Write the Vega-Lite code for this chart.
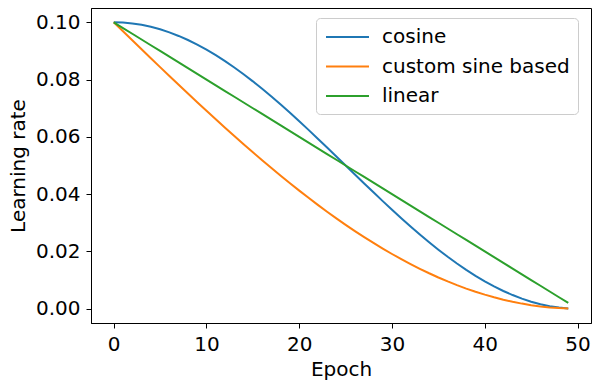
{
  "$schema": "https://vega.github.io/schema/vega-lite/v6.json",
  "width": 500,
  "height": 315,
  "autosize": {"type": "none"},
  "padding": {"left": 91, "top": 8, "right": 1, "bottom": 61},
  "background": "white",
  "config": {
    "view": {"stroke": "black", "strokeWidth": 1},
    "font": "DejaVu Sans",
    "axis": {
      "grid": false,
      "domainColor": "black",
      "domainWidth": 1,
      "tickColor": "black",
      "tickSize": 5,
      "tickWidth": 1,
      "labelColor": "black",
      "labelFont": "DejaVu Sans",
      "labelFontSize": 20,
      "titleFont": "DejaVu Sans",
      "titleFontSize": 20,
      "titleFontWeight": "normal",
      "titleColor": "black",
      "labelPadding": 6
    }
  },
  "data": {
    "values": [
      {"s":"cosine","e":0,"v":0.1},{"s":"cosine","e":1,"v":0.099901},{"s":"cosine","e":2,"v":0.099606},{"s":"cosine","e":3,"v":0.099114},{"s":"cosine","e":4,"v":0.098429},{"s":"cosine","e":5,"v":0.097553},{"s":"cosine","e":6,"v":0.096489},{"s":"cosine","e":7,"v":0.095241},{"s":"cosine","e":8,"v":0.093815},{"s":"cosine","e":9,"v":0.092216},
      {"s":"cosine","e":10,"v":0.090451},{"s":"cosine","e":11,"v":0.088526},{"s":"cosine","e":12,"v":0.086448},{"s":"cosine","e":13,"v":0.084227},{"s":"cosine","e":14,"v":0.081871},{"s":"cosine","e":15,"v":0.079389},{"s":"cosine","e":16,"v":0.076791},{"s":"cosine","e":17,"v":0.074088},{"s":"cosine","e":18,"v":0.071289},{"s":"cosine","e":19,"v":0.068406},
      {"s":"cosine","e":20,"v":0.065451},{"s":"cosine","e":21,"v":0.062435},{"s":"cosine","e":22,"v":0.059369},{"s":"cosine","e":23,"v":0.056267},{"s":"cosine","e":24,"v":0.05314},{"s":"cosine","e":25,"v":0.05},{"s":"cosine","e":26,"v":0.046861},{"s":"cosine","e":27,"v":0.043733},{"s":"cosine","e":28,"v":0.040631},{"s":"cosine","e":29,"v":0.037566},
      {"s":"cosine","e":30,"v":0.034549},{"s":"cosine","e":31,"v":0.031594},{"s":"cosine","e":32,"v":0.028711},{"s":"cosine","e":33,"v":0.025912},{"s":"cosine","e":34,"v":0.023209},{"s":"cosine","e":35,"v":0.020611},{"s":"cosine","e":36,"v":0.018129},{"s":"cosine","e":37,"v":0.015773},{"s":"cosine","e":38,"v":0.013552},{"s":"cosine","e":39,"v":0.011474},
      {"s":"cosine","e":40,"v":0.0095492},{"s":"cosine","e":41,"v":0.0077836},{"s":"cosine","e":42,"v":0.0061847},{"s":"cosine","e":43,"v":0.0047586},{"s":"cosine","e":44,"v":0.0035112},{"s":"cosine","e":45,"v":0.0024472},{"s":"cosine","e":46,"v":0.0015708},{"s":"cosine","e":47,"v":0.0008856},{"s":"cosine","e":48,"v":0.0003943},{"s":"cosine","e":49,"v":0.0000987},
      {"s":"custom sine based","e":0,"v":0.1},{"s":"custom sine based","e":1,"v":0.096859},{"s":"custom sine based","e":2,"v":0.093721},{"s":"custom sine based","e":3,"v":0.090589},{"s":"custom sine based","e":4,"v":0.087467},{"s":"custom sine based","e":5,"v":0.084357},{"s":"custom sine based","e":6,"v":0.081262},{"s":"custom sine based","e":7,"v":0.078186},{"s":"custom sine based","e":8,"v":0.075131},{"s":"custom sine based","e":9,"v":0.072101},
      {"s":"custom sine based","e":10,"v":0.069098},{"s":"custom sine based","e":11,"v":0.066126},{"s":"custom sine based","e":12,"v":0.063188},{"s":"custom sine based","e":13,"v":0.060285},{"s":"custom sine based","e":14,"v":0.057422},{"s":"custom sine based","e":15,"v":0.054601},{"s":"custom sine based","e":16,"v":0.051825},{"s":"custom sine based","e":17,"v":0.049096},{"s":"custom sine based","e":18,"v":0.046417},{"s":"custom sine based","e":19,"v":0.043792},
      {"s":"custom sine based","e":20,"v":0.041221},{"s":"custom sine based","e":21,"v":0.038709},{"s":"custom sine based","e":22,"v":0.036258},{"s":"custom sine based","e":23,"v":0.033869},{"s":"custom sine based","e":24,"v":0.031545},{"s":"custom sine based","e":25,"v":0.029289},{"s":"custom sine based","e":26,"v":0.027103},{"s":"custom sine based","e":27,"v":0.024989},{"s":"custom sine based","e":28,"v":0.022949},{"s":"custom sine based","e":29,"v":0.020984},
      {"s":"custom sine based","e":30,"v":0.019098},{"s":"custom sine based","e":31,"v":0.017292},{"s":"custom sine based","e":32,"v":0.015567},{"s":"custom sine based","e":33,"v":0.013926},{"s":"custom sine based","e":34,"v":0.012369},{"s":"custom sine based","e":35,"v":0.010899},{"s":"custom sine based","e":36,"v":0.0095173},{"s":"custom sine based","e":37,"v":0.0082245},{"s":"custom sine based","e":38,"v":0.0070224},{"s":"custom sine based","e":39,"v":0.0059119},
      {"s":"custom sine based","e":40,"v":0.0048943},{"s":"custom sine based","e":41,"v":0.0039706},{"s":"custom sine based","e":42,"v":0.0031417},{"s":"custom sine based","e":43,"v":0.0024083},{"s":"custom sine based","e":44,"v":0.0017713},{"s":"custom sine based","e":45,"v":0.0012312},{"s":"custom sine based","e":46,"v":0.0007885},{"s":"custom sine based","e":47,"v":0.0004438},{"s":"custom sine based","e":48,"v":0.0001973},{"s":"custom sine based","e":49,"v":0.0000493},
      {"s":"linear","e":0,"v":0.1},{"s":"linear","e":1,"v":0.098},{"s":"linear","e":2,"v":0.096},{"s":"linear","e":3,"v":0.094},{"s":"linear","e":4,"v":0.092},{"s":"linear","e":5,"v":0.09},{"s":"linear","e":6,"v":0.088},{"s":"linear","e":7,"v":0.086},{"s":"linear","e":8,"v":0.084},{"s":"linear","e":9,"v":0.082},
      {"s":"linear","e":10,"v":0.08},{"s":"linear","e":11,"v":0.078},{"s":"linear","e":12,"v":0.076},{"s":"linear","e":13,"v":0.074},{"s":"linear","e":14,"v":0.072},{"s":"linear","e":15,"v":0.07},{"s":"linear","e":16,"v":0.068},{"s":"linear","e":17,"v":0.066},{"s":"linear","e":18,"v":0.064},{"s":"linear","e":19,"v":0.062},
      {"s":"linear","e":20,"v":0.06},{"s":"linear","e":21,"v":0.058},{"s":"linear","e":22,"v":0.056},{"s":"linear","e":23,"v":0.054},{"s":"linear","e":24,"v":0.052},{"s":"linear","e":25,"v":0.05},{"s":"linear","e":26,"v":0.048},{"s":"linear","e":27,"v":0.046},{"s":"linear","e":28,"v":0.044},{"s":"linear","e":29,"v":0.042},
      {"s":"linear","e":30,"v":0.04},{"s":"linear","e":31,"v":0.038},{"s":"linear","e":32,"v":0.036},{"s":"linear","e":33,"v":0.034},{"s":"linear","e":34,"v":0.032},{"s":"linear","e":35,"v":0.03},{"s":"linear","e":36,"v":0.028},{"s":"linear","e":37,"v":0.026},{"s":"linear","e":38,"v":0.024},{"s":"linear","e":39,"v":0.022},
      {"s":"linear","e":40,"v":0.02},{"s":"linear","e":41,"v":0.018},{"s":"linear","e":42,"v":0.016},{"s":"linear","e":43,"v":0.014},{"s":"linear","e":44,"v":0.012},{"s":"linear","e":45,"v":0.01},{"s":"linear","e":46,"v":0.008},{"s":"linear","e":47,"v":0.006},{"s":"linear","e":48,"v":0.004},{"s":"linear","e":49,"v":0.002}
    ]
  },
  "mark": {"type": "line", "strokeWidth": 2, "clip": true},
  "encoding": {
    "x": {
      "field": "e", "type": "quantitative", "title": "Epoch",
      "scale": {"domain": [-2.45, 51.45], "nice": false, "zero": false},
      "axis": {"values": [0, 10, 20, 30, 40, 50], "format": "d", "titlePadding": 5}
    },
    "y": {
      "field": "v", "type": "quantitative", "title": "Learning rate",
      "scale": {"domain": [-0.005, 0.105], "nice": false, "zero": false},
      "axis": {"values": [0, 0.02, 0.04, 0.06, 0.08, 0.1], "format": ".2f", "titlePadding": 7}
    },
    "color": {
      "field": "s", "type": "nominal",
      "scale": {"domain": ["cosine", "custom sine based", "linear"], "range": ["#1f77b4", "#ff7f0e", "#2ca02c"]},
      "legend": {
        "title": null,
        "orient": "none",
        "legendX": 225,
        "legendY": 10,
        "zindex": 1,
        "padding": 8,
        "strokeColor": "#cccccc",
        "fillColor": "white",
        "cornerRadius": 4,
        "symbolType": "M-0.9,0H3.4",
        "symbolSize": 400,
        "symbolStrokeWidth": 2,
        "labelFontSize": 20,
        "labelFont": "DejaVu Sans",
        "labelColor": "black",
        "labelLimit": 400,
        "labelOffset": 36,
        "rowPadding": 8.5
      }
    }
  }
}
